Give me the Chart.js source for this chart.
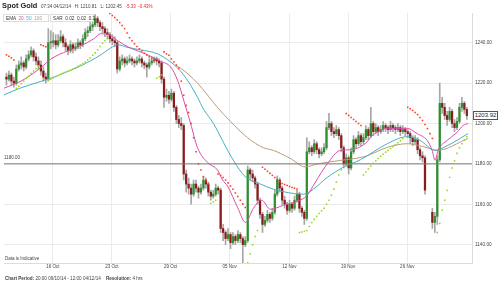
<!DOCTYPE html>
<html>
<head>
<meta charset="utf-8">
<script src="https://cdn.jsdelivr.net/npm/chart.js@4.4.1/dist/chart.umd.min.js"></script>
<style>
html, body { margin: 0; padding: 0; background: #fff; }
#wrap { position: relative; width: 500px; height: 284px; overflow: hidden; font-family: 'Liberation Sans', Arial, sans-serif; color: #333; }
#wrap canvas { position: absolute; left: 0; top: 0; }
.t { position: absolute; white-space: nowrap; line-height: 1; }
.box { position: absolute; background: #fff; border: 1px solid #ddd; height: 8px; line-height: 8px; font-size: 4.7px; padding: 0 2px; white-space: nowrap; box-sizing: border-box; }
</style>
</head>
<body>
<div id="wrap">
  <canvas id="chart" width="500" height="284"></canvas>
  <div class="t" style="left:2px;top:2px;font-size:7.4px;font-weight:bold;color:#222">Spot Gold</div>
  <div class="t" style="left:41px;top:5px;font-size:4.5px;color:#444">07:34 04/12/14 &nbsp; H: 1210.81 &nbsp; L: 1202.45 &nbsp; <span style="color:#e3262b">-5.33 &nbsp;-0.43%</span></div>
  <div class="box" style="left:3px;top:14px;width:46px">EMA &nbsp;<span style="color:#dc4ea6">20</span> &nbsp;<span style="color:#48aec4">50</span> &nbsp;<span style="color:#b99b79">100</span></div>
  <div class="box" style="left:50px;top:14px;width:44px">SAR &nbsp;0.02 &nbsp;0.02 &nbsp;0.2</div>
  <div class="t" style="left:4px;top:156px;font-size:4.5px;color:#444">1180.00</div>
  <div class="t" style="left:5px;top:257px;font-size:4.5px;color:#444">Data is Indicative</div>
  <div class="t" style="left:473px;top:111px;width:25px;height:9px;border:1px solid #555;box-sizing:border-box;background:#fff;font-size:6px;line-height:7px;text-align:center;color:#222">1203.92</div>
  <div class="t" style="left:5px;top:277px;font-size:4.6px;color:#444"><b>Chart Period:</b> 20:00 09/10/14 - 12:00 04/12/14 &nbsp;&nbsp; <b>Resolution:</b> 4 hrs</div>
</div>
<script>
// 4-hour bars, index 0 = 09/10/14 20:00
const opens = [
  1223,1222,1224,1221,1220,1227,1229,1230,1228,1232,
  1234,1236,1233,1231,1229,1226,1223,1222,1240,1240,
  1241,1239,1241,1243,1240,1238,1236,1239,1237,1238,
  1240,1239,1242,1245,1246,1248,1249,1252,1250,1248,
  1247,1245,1244,1242,1241,1240,1227,1231,1232,1230,
  1231,1232,1231,1230,1231,1232,1230,1229,1228,1230,
  1231,1232,1231,1230,1222,1213,1214,1212,1215,1208,
  1202,1200,1199,1175,1170,1168,1165,1170,1168,1166,
  1168,1172,1170,1166,1164,1165,1168,1167,1148,1146,
  1143,1145,1141,1144,1142,1145,1143,1140,1142,1177,
  1175,1173,1170,1162,1155,1150,1152,1155,1153,1156,
  1165,1172,1168,1162,1160,1157,1160,1158,1162,1165,
  1158,1156,1153,1186,1188,1186,1190,1187,1185,1186,
  1188,1198,1200,1196,1195,1197,1194,1188,1180,1183,
  1178,1186,1192,1190,1194,1191,1193,1197,1194,1200,
  1196,1198,1196,1197,1199,1198,1197,1199,1198,1197,
  1198,1196,1197,1196,1195,1193,1191,1192,1187,1184,
  1183,null,null,1156,1151,1154,1182,1210,1208,1204,
  1202,1206,1200,1198,1201,1208,1210,1207
];
const highs = [
  1225,1226,1225,1223,1229,1231,1233,1231,1234,1236,
  1238,1237,1235,1233,1231,1228,1225,1247,1246,1245,
  1244,1244,1246,1244,1242,1239,1241,1240,1240,1242,
  1241,1244,1247,1248,1250,1251,1254,1253,1251,1250,
  1248,1247,1245,1244,1243,1241,1233,1234,1233,1233,
  1234,1233,1232,1233,1234,1233,1231,1230,1232,1233,
  1233,1233,1232,1231,1223,1217,1216,1217,1216,1209,
  1204,1203,1200,1177,1173,1170,1172,1172,1169,1170,
  1174,1173,1171,1167,1167,1170,1169,1168,1150,1147,
  1148,1146,1146,1145,1147,1146,1144,1144,1179,1178,
  1177,1174,1171,1163,1156,1154,1157,1156,1158,1167,
  1174,1173,1169,1164,1161,1162,1161,1164,1167,1166,
  1159,1157,1193,1191,1189,1192,1191,1188,1188,1190,
  1201,1205,1201,1198,1199,1198,1195,1189,1185,1184,
  1188,1194,1193,1196,1195,1195,1199,1198,1208,1201,
  1200,1199,1199,1201,1200,1199,1201,1200,1199,1200,
  1199,1199,1198,1197,1196,1194,1194,1193,1188,1186,
  1184,null,null,1158,1156,1184,1220,1213,1210,1206,
  1208,1207,1202,1203,1210,1213,1211,1208
];
const lows = [
  1219,1221,1219,1218,1219,1226,1227,1226,1227,1231,
  1233,1231,1229,1227,1224,1221,1220,1221,1237,1238,
  1237,1238,1240,1238,1236,1234,1235,1235,1236,1237,
  1237,1238,1241,1243,1245,1246,1248,1248,1246,1245,
  1243,1242,1240,1239,1238,1225,1226,1229,1228,1229,
  1230,1229,1228,1229,1230,1228,1227,1223,1227,1229,
  1230,1229,1228,1220,1208,1211,1210,1211,1206,1200,
  1198,1197,1172,1166,1165,1160,1164,1166,1163,1165,
  1167,1168,1164,1162,1163,1164,1165,1146,1142,1140,
  1142,1138,1140,1140,1141,1141,1131,1139,1141,1172,
  1171,1168,1160,1153,1146,1149,1151,1151,1152,1155,
  1164,1166,1160,1158,1155,1156,1156,1157,1161,1156,
  1154,1150,1152,1185,1184,1185,1185,1183,1184,1185,
  1187,1197,1194,1193,1194,1192,1186,1178,1179,1175,
  1177,1185,1188,1189,1189,1190,1192,1192,1193,1194,
  1195,1194,1195,1196,1196,1195,1196,1196,1195,1196,
  1194,1195,1194,1193,1190,1189,1190,1185,1182,1181,
  1165,null,null,1148,1146,1150,1181,1205,1202,1199,
  1201,1198,1196,1197,1200,1206,1205,1202
];
const closes = [
  1222,1224,1221,1220,1227,1229,1230,1228,1232,1234,
  1236,1233,1231,1229,1226,1223,1222,1240,1240,1241,
  1239,1241,1243,1240,1238,1236,1239,1237,1238,1240,
  1239,1242,1245,1246,1248,1249,1252,1250,1248,1247,
  1245,1244,1242,1241,1240,1227,1231,1232,1230,1231,
  1232,1231,1230,1231,1232,1230,1229,1228,1230,1231,
  1232,1231,1230,1222,1213,1214,1212,1215,1208,1202,
  1200,1199,1175,1170,1168,1165,1170,1168,1166,1168,
  1172,1170,1166,1164,1165,1168,1167,1148,1146,1143,
  1145,1141,1144,1142,1145,1143,1140,1142,1177,1175,
  1173,1170,1162,1155,1150,1152,1155,1153,1156,1165,
  1172,1168,1162,1160,1157,1160,1158,1162,1165,1158,
  1156,1153,1186,1188,1186,1190,1187,1185,1186,1188,
  1198,1200,1196,1195,1197,1194,1188,1180,1183,1178,
  1186,1192,1190,1194,1191,1193,1197,1194,1200,1196,
  1198,1196,1197,1199,1198,1197,1199,1198,1197,1198,
  1196,1197,1196,1195,1193,1191,1192,1187,1184,1183,
  1167,null,null,1151,1154,1182,1210,1208,1204,1202,
  1206,1200,1198,1201,1208,1210,1207,1203.92
];

// Parabolic SAR per bar
const sar = [
  1234,1233.3,1232.5,1231.5,1217.4,1218.5,1219.7,1221,1222.3,1223.5,
  1224.8,1226,1227.2,1228.3,1239,1238.5,1238,1221.4,1222,1222.6,
  1223.2,1223.8,1224.4,1224.9,1225.4,1225.9,1226.4,1227,1227.6,1228.3,
  1229,1229.7,1230.5,1231.5,1232.6,1233.8,1235,1236.5,1238.2,1239.8,
  1241,1242,1254.5,1253.5,1252.5,1251.3,1250,1248.6,1247,1244.8,
  1242.5,1241,1239.5,1238.2,1237,1235.9,1234.8,1233.9,1233,1232.2,
  1231.5,1222.4,1223.2,1224,1235.5,1234.5,1233.8,1232,1230.5,1229,
  1227.4,1221,1214,1209,1205.5,1200,1193,1186,1180,1177,
  1173.5,1171.5,1170,1160.4,1161.2,1162,1175,1174.3,1173.3,1172,
  1170.6,1169,1167.4,1165.6,1163.8,1162,1160.2,1158.4,1131,1135.5,
  1140,1144,1147,null,1178.3,1177.3,1176.3,1175.3,1174.3,1173.3,
  1172.3,1171.3,1170.3,1169.8,1169.3,1168.8,1168.3,1168,1167.6,1146,
  1146.3,1146.6,1147,1149,1151,1152.5,1154,1155.4,1156.8,1158,
  1160,1162,1164.5,1167.5,1171,1174.5,1177,1179,1205,1204,
  1203,1202,1201,1200,1199,1174.5,1176,1177.5,1179,1180.3,
  1181.5,1182.7,1183.8,1184.8,1185.8,1186.7,1187.6,1188.5,1189.5,1190.5,
  1191.5,1192.6,1193.8,1208,1207.3,1206.5,1205.5,1204.4,1203,1201.5,
  1199.5,1197.5,1195,1192.6,null,1146,1150.5,1157,1162,1166.8,
  1173.3,1178,1181.5,1185.2,1188,1190,1191.8,1193.4
];
// bar ranges where SAR sits above price (down trend)
const sarDownRuns = [[0, 3], [14, 16], [42, 60], [64, 82], [86, 97], [104, 118], [138, 144], [163, 173]];

// moving averages as [bar, price]
const ema20 = [
  [-1,1217.5],[5.9,1221],[14,1227.7],[18.1,1232],[24.9,1236],[30.2,1238.5],[35.5,1242],[38.3,1244.5],
  [42.4,1243.5],[45.2,1241],[49.3,1238],[57.4,1234],[62.6,1230.8],[66.7,1228],[69.5,1221.4],[72,1211.5],
  [74.8,1200],[77.6,1188],[81.7,1180.7],[85.7,1177],[87.8,1172],[89.8,1169],[93.9,1158.4],[97.1,1151],
  [100.3,1158],[103.6,1162],[107.2,1157.5],[112.5,1159.5],[118.2,1161.5],[122.2,1164.5],[125.5,1171],
  [130.3,1180],[135.6,1186.7],[139.7,1187],[145.7,1190],[148.6,1194],[154.7,1197.6],[162.8,1197.6],
  [166.8,1195],[170.9,1191.6],[172.9,1186.7],[174.1,1181.7],[175.3,1186.7],[179,1191.6],[183,1195.6],
  [185.5,1199],[187.5,1200]
];
const ema50 = [
  [-1,1214.2],[5.9,1217.7],[18.1,1222.5],[30.2,1228.6],[38.3,1234],[42.4,1237.5],[45.2,1239],[48.9,1237.8],
  [54.5,1236.5],[61.4,1234.5],[66.7,1230.5],[69.5,1227.5],[72,1224],[74.8,1219],[77.6,1213],[80.1,1207],
  [84.1,1200],[88.2,1190.5],[92.2,1181.7],[97.1,1173.5],[103.2,1170],[108.4,1167.5],[120.6,1165],
  [124.7,1167.5],[130.3,1173.3],[136.8,1178.3],[143.7,1182],[154.7,1190],[162.8,1193.5],[168,1191.6],
  [174.1,1186.7],[179,1189],[187.5,1195]
];
const ema100 = [
  [68.7,1228.8],[70.7,1227.5],[77.6,1220],[85.7,1208],[91,1201],[97.9,1193],[104.4,1188],[108.4,1186.7],
  [115.3,1182.7],[121.4,1178.5],[126.3,1180],[135.6,1181.7],[145.7,1183.7],[154.7,1188.2],[162.8,1190],
  [170.9,1188],[174.9,1186.7],[187.5,1192.6]
];

const xTickPos = [18.9, 42.8, 66.7, 90.6, 114.9, 138.8, 162.8];
const xTickLabels = ['16 Oct', '23 Oct', '29 Oct', '05 Nov', '12 Nov', '19 Nov', '26 Nov'];
const yTicks = [1140, 1160, 1180, 1200, 1220, 1240];
const levelLine = 1180;

const UP = '#2f8f2f';
const DOWN = '#8c1c1c';
const WICK = '#a6a6a6';
const FONT = "'Liberation Sans', Arial, sans-serif";

const wickData = [], bodyData = [], bodyColors = [];
closes.forEach((c, i) => {
    if (c === null) return;
    wickData.push({ x: i, y: [lows[i], highs[i]] });
    bodyData.push({ x: i, y: [opens[i], c] });
    bodyColors.push(c >= opens[i] ? UP : DOWN);
});

const sarData = [], sarColors = [];
sar.forEach((v, i) => {
    if (v === null) return;
    const down = sarDownRuns.some(r => i >= r[0] && i <= r[1]);
    sarData.push({ x: i, y: v });
    sarColors.push(down ? '#ff3a1a' : '#95d81c');
});

const toPts = arr => arr.map(p => ({ x: p[0], y: p[1] }));

const lineStyle = color => ({
    type: 'line',
    borderColor: color,
    borderWidth: 1,
    pointRadius: 0,
    cubicInterpolationMode: 'monotone',
    fill: false,
});

new Chart(document.getElementById('chart'), {
    type: 'bar',
    data: {
        datasets: [
            { type: 'line', data: sarData, showLine: false, pointStyle: 'rect', pointRadius: 1.1,
              pointBorderWidth: 0, pointBackgroundColor: sarColors, pointBorderColor: sarColors, order: 1 },
            { type: 'line', data: [{ x: -1, y: levelLine }, { x: 189.1, y: levelLine }],
              borderColor: '#777', borderWidth: 1, pointRadius: 0, order: 2 },
            { ...lineStyle('#dc4ea6'), data: toPts(ema20), order: 3 },
            { ...lineStyle('#48aec4'), data: toPts(ema50), order: 4 },
            { ...lineStyle('#b99b79'), data: toPts(ema100), order: 5 },
            { type: 'bar', data: bodyData, backgroundColor: bodyColors, barThickness: 1.6,
              minBarLength: 1, grouped: false, order: 9 },
            { type: 'bar', data: wickData, backgroundColor: WICK, barThickness: 1,
              grouped: false, order: 10 },
        ]
    },
    options: {
        responsive: false,
        animation: false,
        layout: { padding: { left: 3, top: 13, right: 0, bottom: 11 } },
        plugins: {
            legend: { display: false },
            tooltip: { enabled: false },
        },
        scales: {
            x: {
                type: 'linear',
                min: -1,
                max: 189.1,
                offset: false,
                grid: { color: '#ebebeb', drawTicks: false, offset: false },
                border: { color: '#dcdcdc' },
                afterBuildTicks: s => { s.ticks = xTickPos.map(v => ({ value: v })); },
                afterFit: s => { s.height = 10; },
                ticks: {
                    font: { size: 4.5, family: FONT },
                    color: '#444',
                    padding: 1,
                    maxRotation: 0,
                    autoSkip: false,
                    callback: (v, i) => xTickLabels[i],
                },
            },
            y: {
                position: 'right',
                min: 1130.9,
                max: 1254.75,
                grid: { color: '#ebebeb', drawTicks: false },
                border: { color: '#dcdcdc' },
                afterBuildTicks: s => { s.ticks = yTicks.map(v => ({ value: v })); },
                afterFit: s => { s.width = 28; },
                ticks: {
                    font: { size: 4.7, family: FONT },
                    color: '#444',
                    padding: 3,
                    callback: v => v.toFixed(2),
                },
            },
        },
    },
});
</script>
</body>
</html>
